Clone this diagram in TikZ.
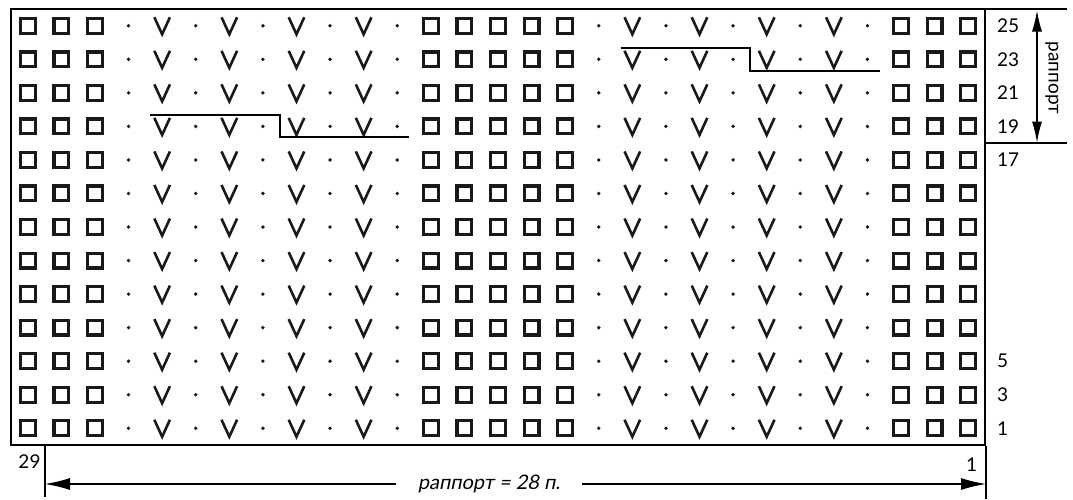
\documentclass[tikz,border=0pt]{standalone}
\usepackage{fontspec}
\setmainfont{Lato}
\newfontfamily\slantlato[FakeSlant=0.2]{Lato}
\usetikzlibrary{arrows.meta}
\begin{document}
\begin{tikzpicture}[x=1pt,y=-1pt,
  sqsym/.style={line width=3.2pt,draw=black!90},
  veesym/.style={line width=2.6pt,line join=miter,draw=black!90},
  frame/.style={line width=2pt},
  thinline/.style={line width=1.2pt},
  repline/.style={line width=2pt},
  numfont/.style={font=\fontsize{19}{21}\selectfont},
  numlabel/.style={numfont,anchor=west,inner sep=0pt},
  dblarrow/.style={thinline,{Latex[length=21,width=10]}-{Latex[length=21,width=10]}},
  harrow/.style={thinline,-{Latex[length=25,width=12]}},
]
\useasboundingbox (0,0) rectangle (1073,499);
% symbols: 0 square, 1 dot, 2 V
\foreach \t [count=\jj from 0] in {0,0,0,1,2,1,2,1,2,1,2,1,0,0,0,0,0,1,2,1,2,1,2,1,2,1,0,0,0}{
  \foreach \i in {0,...,12}{
    \pgfmathsetmacro\cx{11+33.586*(\jj+0.5)}
    \pgfmathsetmacro\cy{9+33.54*(\i+0.5)}
    \ifcase\t
      \draw[sqsym] (\cx-7.4,\cy-7.4) rectangle (\cx+7.4,\cy+7.4);
    \or
      \fill[black!90] (\cx,\cy) circle (1.9);
    \or
      \draw[veesym] (\cx-7.8,\cy-8.5) -- (\cx,\cy+8.5) -- (\cx+7.8,\cy-8.5);
    \fi
  }
}
% frame
\coordinate (tl) at (11,9);
\coordinate (br) at (985,445);
\draw[frame] (tl) rectangle (br);
% repeat lines
\draw[repline] (150,115) -- (279.7,115) -- (279.7,137) -- (409,137);
\draw[repline] (620.6,47.7) -- (749.9,47.7) -- (749.9,70.7) -- (879.5,70.7);
% right side
\coordinate (rt1) at (985,9);
\coordinate (rt2) at (1067,9);
\coordinate (rb1) at (985,143);
\coordinate (rb2) at (1067,143);
\draw[thinline] (rt1) -- (rt2);
\draw[thinline] (rb1) -- (rb2);
\coordinate (au) at (1037,10.5);
\coordinate (ad) at (1037,142.5);
\draw[dblarrow] (au) -- (ad);
\node[rotate=-90,numfont] (rapv) at (1052,78) {раппорт};
\foreach \i/\n in {0/25,1/23,2/21,3/19,4/17,10/5,11/3,12/1}{
  \node[numlabel] (row\n) at (997,{9+33.54*(\i+0.5)}) {\n};
}
% bottom
\coordinate (bl1) at (45,446);
\coordinate (bl2) at (45,497);
\coordinate (brr1) at (986,446);
\coordinate (brr2) at (986,499);
\draw[thinline] (bl1) -- (bl2);
\draw[thinline] (brr1) -- (brr2);
\node[numfont] (c29) at (29.5,462) {29};
\node[numfont] (c1) at (971.5,465) {1};
\node[font=\fontsize{20}{22}\selectfont\slantlato,inner xsep=22pt,inner ysep=2pt] (lbl) at (489,484) {раппорт = 28 п.};
\coordinate (al) at (45,484);
\coordinate (ar) at (986,484);
\draw[harrow] (lbl) -- (al);
\draw[harrow] (lbl) -- (ar);
\end{tikzpicture}
\end{document}
